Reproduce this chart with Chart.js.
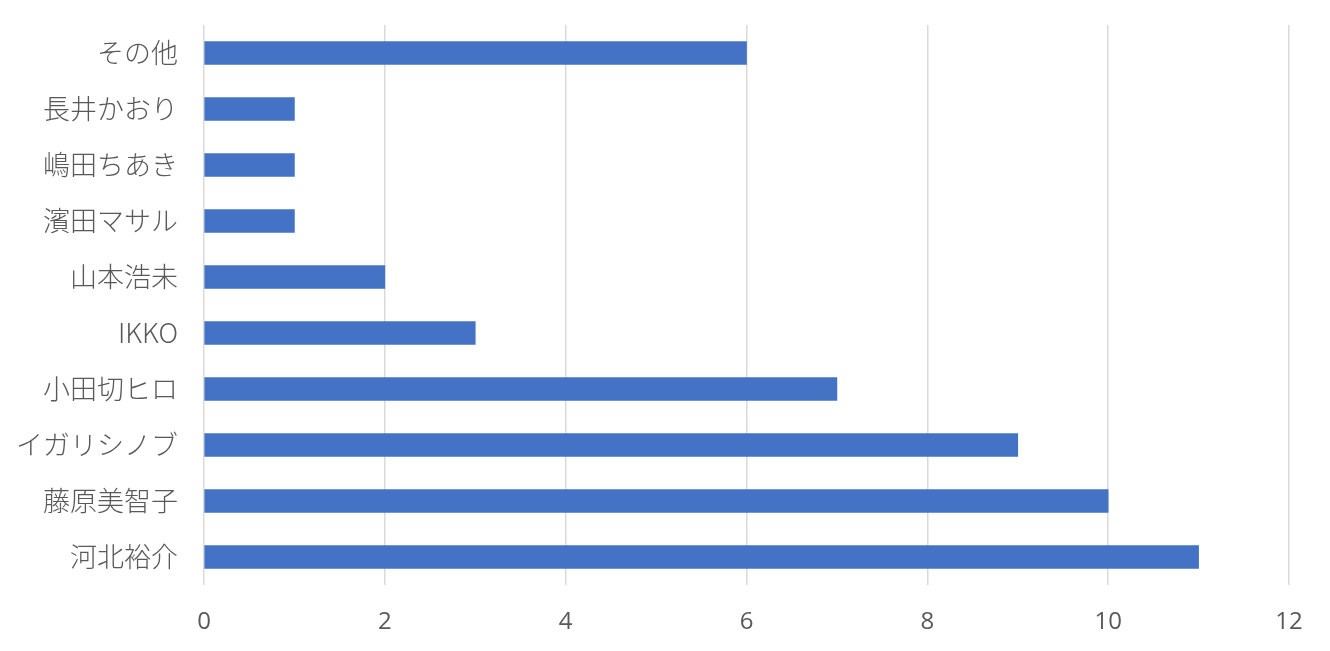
<!DOCTYPE html>
<html>
<head>
<meta charset="utf-8">
<script src="https://cdn.jsdelivr.net/npm/chart.js@4"></script>
<style>
html,body{margin:0;padding:0;background:#fff;}
#wrap{width:1330px;height:651px;position:relative;}
</style>
</head>
<body>
<div id="wrap"><canvas id="c" width="1330" height="651"></canvas></div>
<script>
const categories = ["その他","長井かおり","嶋田ちあき","濱田マサル","山本浩未","IKKO","小田切ヒロ","イガリシノブ","藤原美智子","河北裕介"];
const values = [6,1,1,1,2,3,7,9,10,11];
const xTicks = [0,2,4,6,8,10,12];

new Chart(document.getElementById('c'), {
  type: 'bar',
  data: {
    labels: categories,
    datasets: [{
      data: values,
      backgroundColor: '#4472C4',
      borderWidth: 0,
      barThickness: 23
    }]
  },
  options: {
    indexAxis: 'y',
    responsive: false,
    animation: false,
    layout: { padding: { top: 25, right: 41, left: 0, bottom: 0 } },
    plugins: { legend: { display: false }, tooltip: { enabled: false } },
    scales: {
      x: {
        min: 0, max: 12,
        afterBuildTicks: s => { s.ticks = xTicks.map(v => ({ value: v })); },
        afterFit: s => { s.height = 66; s.paddingLeft = 0; s.paddingRight = 0; },
        grid: { color: '#d9d9d9', lineWidth: 1.5, drawTicks: false },
        border: { display: false },
        ticks: { padding: 23, color: '#595959', font: { family: 'Open Sans', size: 24 } }
      },
      y: {
        afterFit: s => { s.width = 204; s.paddingTop = 0; s.paddingBottom = 0; },
        grid: { display: false, drawTicks: false },
        border: { display: false },
        ticks: { padding: 26, color: '#595959', font: { family: '"Noto Sans CJK JP"', size: 27, weight: '300' } }
      }
    }
  }
});
</script>
</body>
</html>
